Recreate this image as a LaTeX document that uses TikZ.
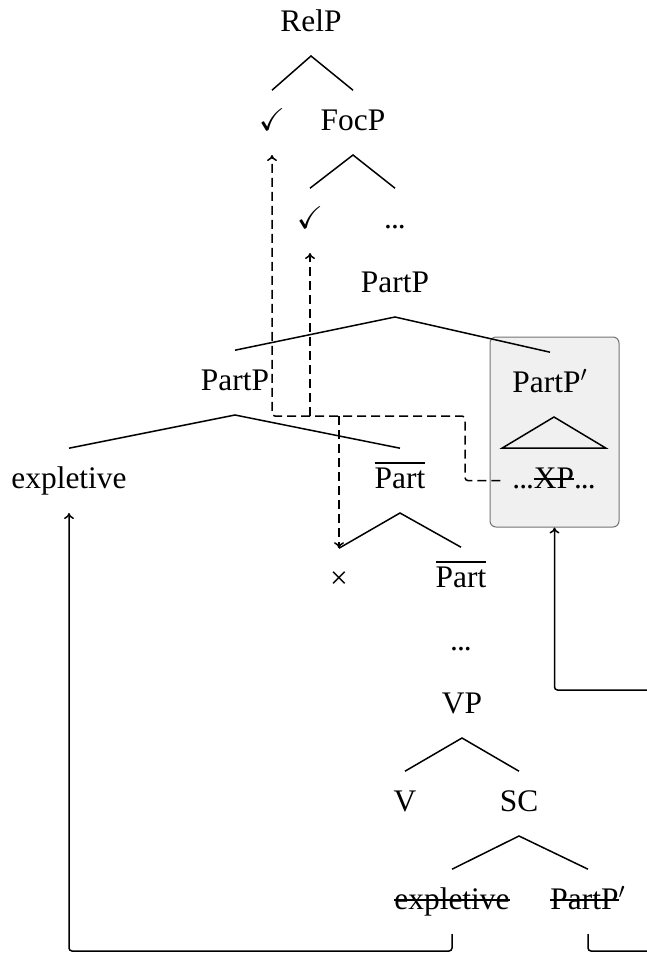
\documentclass[tikz,border=0pt]{standalone}
\usepackage{fontspec}
\setmainfont{Liberation Serif}
\usepackage{amssymb}
\usetikzlibrary{arrows.meta}
% struck-through text
\newsavebox\strkbox
\newcommand\strk[1]{\sbox\strkbox{#1}\rlap{\usebox\strkbox}\rule[0.27em]{\wd\strkbox}{0.05em}}
% slightly tightened ellipsis
\newcommand\tdots{.\kern-0.5pt.\kern-0.5pt.}
\begin{document}
\begin{tikzpicture}[x=0.5pt,y=-0.5pt,
  >={To[length=3pt,width=5pt]},
  lbl/.style={inner sep=0pt, outer sep=0pt, anchor=base,
    text height=19.9pt, text depth=12.5pt,
    font=\fontsize{15.7}{19}\selectfont},
  branch/.style={line width=0.75pt},
  movedash/.style={line width=0.75pt, dash pattern=on 4.5pt off 2.5pt, rounded corners=1.5pt},
  movesolid/.style={line width=0.75pt, rounded corners=1.5pt},
  chunk/.style={draw=black!55, fill=black!6, rounded corners=3pt, line width=0.5pt,
    minimum width=64.5pt, minimum height=95pt, inner sep=0pt}
]
\useasboundingbox (0,0) rectangle (647,954);
\clip (0,0) rectangle (647,954);

% shaded constituent
\node[chunk] (box) at (554.5,432) {};

% tree labels
\node[lbl] (relp)   at (311,31)  {RelP};
\node[lbl] (chkA)   at (272,130) {$\checkmark$};
\node[lbl] (focp)   at (353,130) {FocP};
\node[lbl] (chkB)   at (310,228) {$\checkmark$};
\node[lbl] (dotsA)  at (395,228) {\tdots};
\node[lbl] (partpT) at (395,292) {PartP};
\node[lbl] (partpL) at (235,390) {PartP};
\node[lbl] (partpR) at (550,392) {PartP$'$};
\node[lbl] (explA)  at (69,488)  {expletive};
\node[lbl] (barA)   at (400,488) {$\overline{\mbox{Part}}$};
\node[lbl] (xp)     at (554,488) {\tdots\strk{XP}\tdots};
\node[lbl] (times)  at (339,588) {×};
\node[lbl] (barB)   at (461,587) {$\overline{\mbox{Part}}$};
\node[lbl] (dotsB)  at (461,650) {\tdots};
\node[lbl] (vp)     at (462,713) {VP};
\node[lbl] (v)      at (405,811) {V};
\node[lbl] (sc)     at (519,811) {SC};
\node[lbl] (explB)  at (452,909) {\strk{expletive}};
\node[lbl] (partpS) at (588,909) {\strk{PartP}$'$};

% branches
\draw[branch] (chkA.north) -- (relp.south) -- (focp.north);
\draw[branch] (chkB.north) -- (focp.south) -- (dotsA.north);
\draw[branch] (partpL.north) -- (partpT.south) -- (partpR.north);
\draw[branch] (explA.north) -- (partpL.south) -- (barA.north);
\draw[branch] (times.north) -- (barA.south) -- (barB.north);
\draw[branch] (v.north) -- (vp.south) -- (sc.north);
\draw[branch] (explB.north) -- (sc.south) -- (partpS.north);
\draw[branch] (xp.north |- partpR.south) -- ([xshift=-26pt]xp.north)
  -- ([xshift=26pt]xp.north) -- cycle;

% dashed movement paths
\coordinate (turnR) at (465,416);
\coordinate (forkB) at (310,416);
\coordinate (forkC) at (339,416);
\draw[movedash,->] ([xshift=-6pt]xp.west) -| (turnR) -| (chkA.south);
\draw[movedash,->] (forkB) -- (chkB.south);
\draw[movedash,->] (forkC) -- (times.north);

% solid movement paths
\coordinate (farMid) at (680,690);
\draw[movesolid,->] (explB.south) -- ++(0,17) -| (explA.south);
\draw[movesolid,->] (partpS.south) -- ++(0,17) -| (farMid) -| (box.south);
\end{tikzpicture}
\end{document}
